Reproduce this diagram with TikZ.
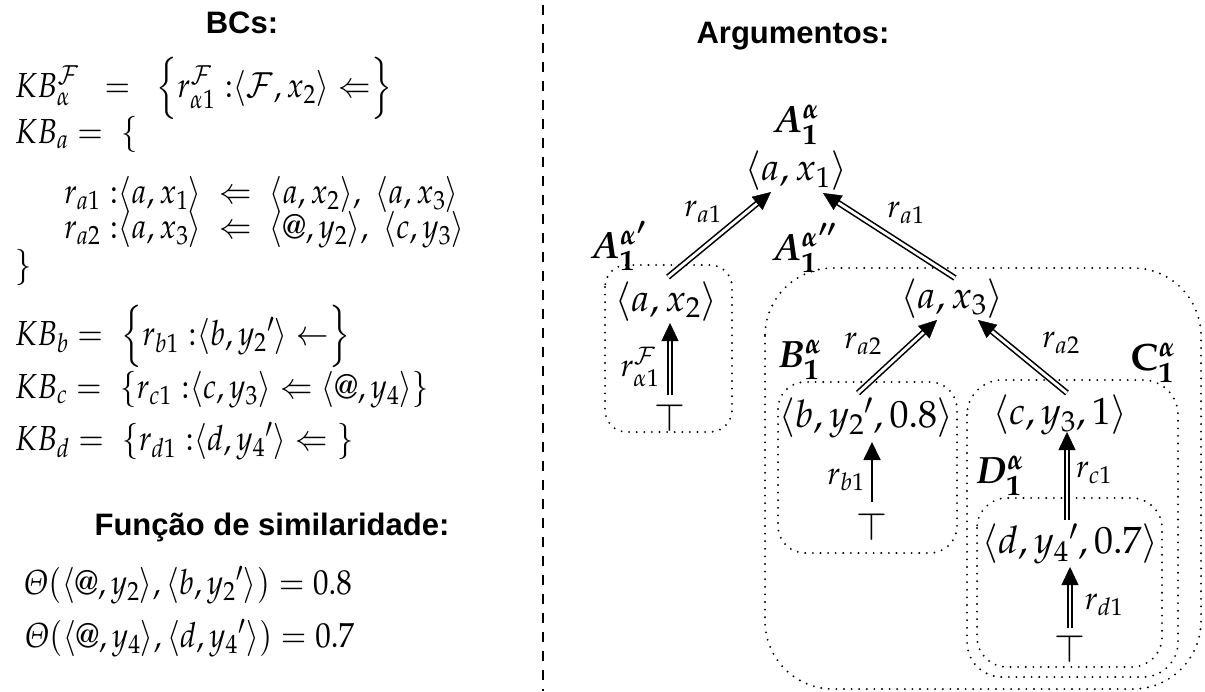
\documentclass[tikz,border=0pt]{standalone}
\usepackage{amsmath}
\usepackage{graphicx}
\usepackage{mathpazo}
\usepackage[no-math]{fontspec}
\setsansfont{Liberation Sans}
\usetikzlibrary{arrows.meta,calc}
\newcommand\dblarrow[2]{%
  \draw[dbl, shorten >=12pt] #1 -- #2;
  \draw[tipstyle] ($#2!15pt!#1$) -- #2;}
\newcommand\vst[1]{\scalebox{1}[1.12]{#1}}
\begin{document}
\begin{tikzpicture}[x=1pt,y=-1pt,
  hdr/.style={inner sep=0pt, font=\fontsize{31}{37}\selectfont\sffamily\bfseries},
  lm/.style={inner sep=0pt, anchor=base west, font=\fontsize{31}{37}\selectfont},
  mtxt/.style={inner sep=0pt, font=\fontsize{38}{45}\selectfont},
  lbl/.style={inner sep=0pt, font=\fontsize{32}{38}\selectfont},
  blbl/.style={inner sep=0pt, font=\fontsize{38}{45}\selectfont\boldmath},
  dotbox/.style={line width=2.1pt, dash pattern=on 0pt off 7.6pt, line cap=round, rounded corners=#1},
  dbl/.style={double=white, double distance=2.8pt, line width=1.6pt},
  tipstyle/.style={line width=0.4pt, -{Triangle[length=18pt,width=17pt]}},
  sgl/.style={line width=1.8pt, -{Triangle[length=18pt,width=17pt]}}
]
\useasboundingbox (0,0) rectangle (1205,691);
% divider
\coordinate (dvt) at (542.5,5);
\coordinate (dvb) at (542.5,691);
\draw[line width=2pt, dash pattern=on 10pt off 9pt] (dvt) -- (dvb);

% ---------- left side ----------
\node[hdr, anchor=base] (hbc) at (242,33) {BCs:};
\node[lm] (l1) at (15,97)
  {\vst{$KB_{\alpha}^{\mathcal{F}}\;\;=\;\;\Bigl\{r_{\alpha1}^{\mathcal{F}}\ {:}\langle\mathcal{F},x_2\rangle\Leftarrow\Bigr\}$}};
\node[lm] (l2) at (15,143) {\vst{$KB_a=\ \{$}};
\node[lm] (l3) at (64,203)
  {\vst{$r_{a1}\ {:}\langle a,x_1\rangle\;\Leftarrow\;\langle a,x_2\rangle,\ \langle a,x_3\rangle$}};
\node[lm] (l4) at (64,238)
  {\vst{$r_{a2}\ {:}\langle a,x_3\rangle\;\Leftarrow\;\langle @,y_2\rangle,\ \langle c,y_3\rangle$}};
\node[lm] (l5) at (15,276) {\vst{$\}$}};
\node[lm] (l6) at (15,345)
  {\vst{$KB_b=\ \Bigl\{r_{b1}\ {:}\langle b,{y_2}'\rangle\leftarrow\Bigr\}$}};
\node[lm] (l7) at (15,398)
  {\vst{$KB_c=\ \{r_{c1}\ {:}\langle c,y_3\rangle\Leftarrow\langle @,y_4\rangle\}$}};
\node[lm] (l8) at (15,450)
  {\vst{$KB_d=\ \{r_{d1}\ {:}\langle d,{y_4}'\rangle\Leftarrow\ \}$}};
\node[hdr, anchor=base] (hfs) at (272,535) {Função de similaridade:};
\node[lm] (t1) at (24,594)
  {\vst{$\mathnormal{\Theta}(\langle @,y_2\rangle,\langle b,{y_2}'\rangle)=0.8$}};
\node[lm] (t2) at (25,647)
  {\vst{$\mathnormal{\Theta}(\langle @,y_4\rangle,\langle d,{y_4}'\rangle)=0.7$}};

% ---------- right side ----------
\node[hdr, anchor=base] (harg) at (793,43) {Argumentos:};

% boxes
\draw[dotbox=22pt] (605,265) rectangle (732,432);
\draw[dotbox=68pt] (765,268) rectangle (1201,689);
\draw[dotbox=27pt] (778,382) rectangle (957,553);
\draw[dotbox=35pt] (967,380) rectangle (1178,677);
\draw[dotbox=30pt] (977,498) rectangle (1162,667);

% labels
\node[blbl] (lA) at (796,125) {$A_1^{\alpha}$};
\node[blbl] (lA1) at (618,246) {$A_1^{\alpha'}$};
\node[blbl] (lA2) at (804,248) {$A_1^{\alpha''}$};
\node[blbl] (lB) at (800,360) {$B_1^{\alpha}$};
\node[blbl] (lC) at (1153,363) {$\mathbf{C}_1^{\alpha}$};
\node[blbl] (lD) at (1000,476) {$D_1^{\alpha}$};

% claims
\node[mtxt] (ax1) at (796,170) {$\langle a,x_1\rangle$};
\node[mtxt] (ax2) at (666,301) {$\langle a,x_2\rangle$};
\node[mtxt] (ax3) at (952,298) {$\langle a,x_3\rangle$};
\node[mtxt] (nb) at (866,418) {$\langle b,{y_2}',0.8\rangle$};
\node[mtxt] (nc) at (1060,415) {$\langle c,y_3,1\rangle$};
\node[mtxt] (nd) at (1070,544) {$\langle d,{y_4}',0.7\rangle$};
\node[mtxt] (top1) at (670,418) {$\top$};
\node[mtxt] (top2) at (872,527) {$\top$};
\node[mtxt] (top3) at (1070,649) {$\top$};

% rule labels
\node[lbl] (ra1l) at (703,212) {$r_{a1}$};
\node[lbl] (ra1r) at (906,213) {$r_{a1}$};
\node[lbl] (rF) at (640,367) {$r_{\alpha1}^{\mathcal{F}}$};
\node[lbl] (ra2l) at (863,344) {$r_{a2}$};
\node[lbl] (ra2r) at (1061,343) {$r_{a2}$};
\node[lbl] (rb1) at (846,480) {$r_{b1}$};
\node[lbl] (rc1) at (1094,473) {$r_{c1}$};
\node[lbl] (rd1) at (1104,605) {$r_{d1}$};

% arrows
\dblarrow{($(ax2)+(2,-24)$)}{($(ax1)+(-25,22)$)}
\dblarrow{($(ax3)+(3,-20)$)}{($(ax1)+(27,23)$)}
\dblarrow{($(top1)+(0,-23)$)}{($(ax2)+(4,22)$)}
\dblarrow{($(nb)+(-8,-25)$)}{($(ax3)+(-15,22)$)}
\dblarrow{($(nc)+(7,-22)$)}{($(ax3)+(26,22)$)}
\draw[sgl] ($(top2)+(0,-25)$) -- ($(nb)+(6,24)$);
\dblarrow{($(nd)+(-3,-24)$)}{($(nc)+(7,17)$)}
\dblarrow{($(top3)+(0,-21)$)}{($(nd)+(0,23)$)}
\end{tikzpicture}
\end{document}
